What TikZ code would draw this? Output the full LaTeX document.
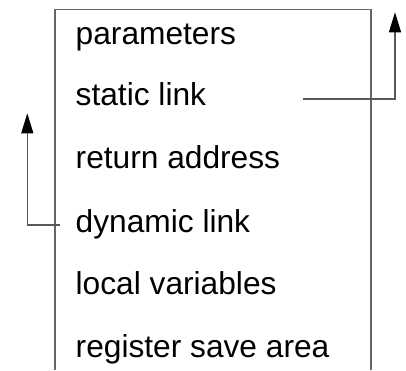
\documentclass[tikz,border=0pt]{standalone}
\usepackage{fontspec}
\setmainfont{Liberation Sans}
\usetikzlibrary{arrows.meta}
\begin{document}
\begin{tikzpicture}[x=1pt,y=-1pt,
  frameline/.style={draw=black!60,line width=1.2pt},
  linkline/.style={draw=black!65,line width=1.2pt,-{Triangle[length=20pt,width=12pt,color=black,fill=black]}},
  field/.style={anchor=base west,inner sep=0pt,font=\fontsize{31.7}{38}\selectfont}]
  \useasboundingbox (0,0) rectangle (406,370);
  % activation record frame, open at the bottom
  \draw[frameline] (55,370) -- (55,9.3) -- (371,9.3) -- (371,370);
  % fields of the record
  \node[field] (par) at (75.5,44) {parameters};
  \node[field] (sl)  at (75.5,105) {static link};
  \node[field] (ra)  at (75.5,168.5) {return address};
  \node[field] (dl)  at (75.5,232) {dynamic link};
  \node[field] (lv)  at (75.5,294) {local variables};
  \node[field] (rs)  at (75.5,357) {register save area};
  % static link pointer
  \coordinate (slstart) at (303,99);
  \coordinate (slcorner) at (395,99);
  \coordinate (sltip) at (395,12.3);
  \draw[linkline] (slstart) -- (slcorner) -- (sltip);
  % dynamic link pointer
  \coordinate (dlstart) at (60,225);
  \coordinate (dlcorner) at (27.3,225);
  \coordinate (dltip) at (27.3,113.3);
  \draw[linkline] (dlstart) -- (dlcorner) -- (dltip);
\end{tikzpicture}
\end{document}
